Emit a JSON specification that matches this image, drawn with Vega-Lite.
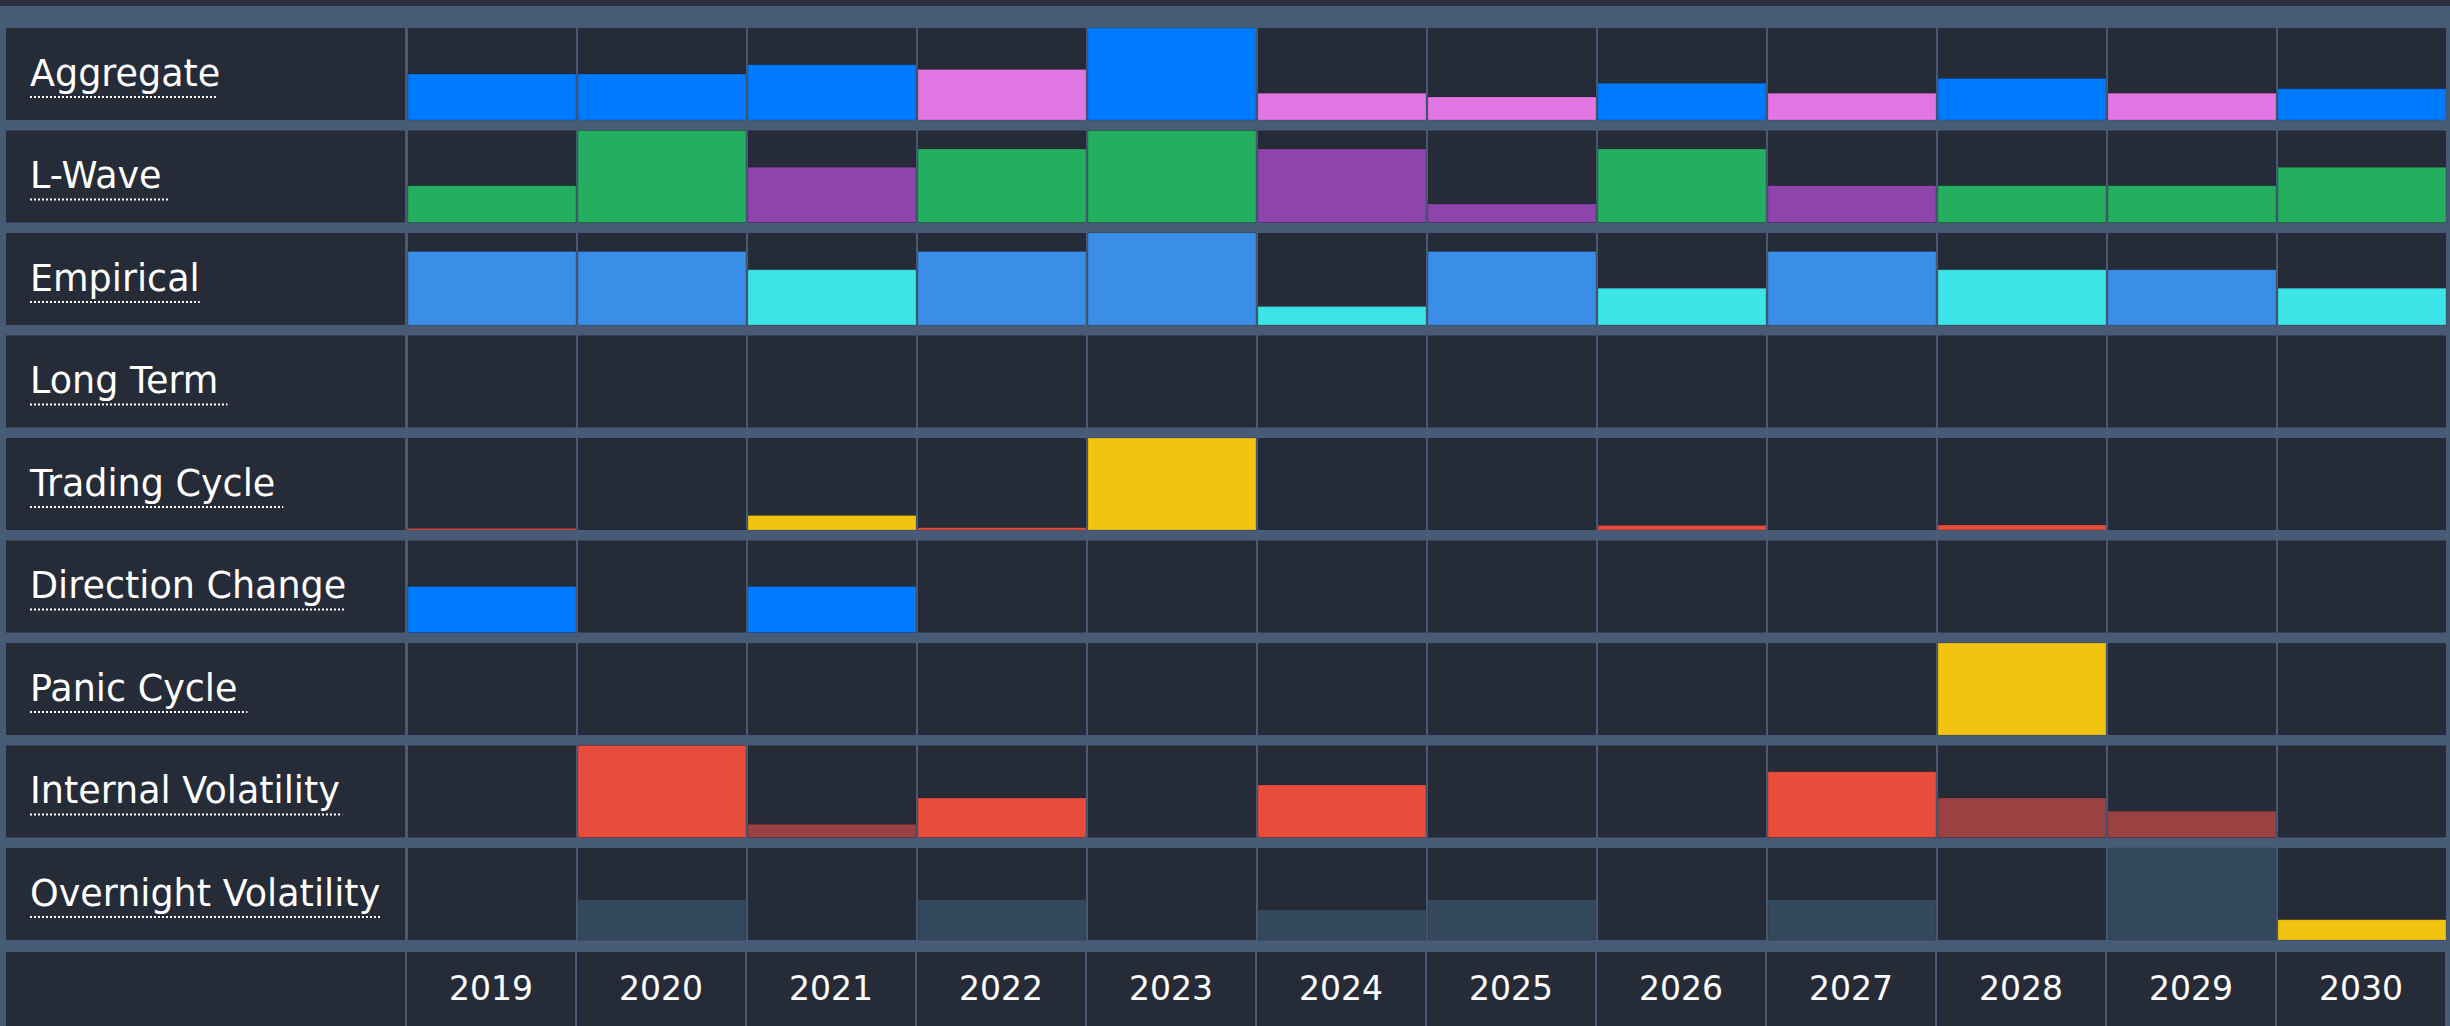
{
  "$schema": "https://vega.github.io/schema/vega-lite/v6.json",
  "background": "#475a76",
  "padding": 0,
  "config": {"view": {"stroke": null}},
  "data": {"values": [
    {"metric": "Aggregate", "year": 2019, "value": 0.50, "tone": "A"},
    {"metric": "Aggregate", "year": 2020, "value": 0.50, "tone": "A"},
    {"metric": "Aggregate", "year": 2021, "value": 0.60, "tone": "A"},
    {"metric": "Aggregate", "year": 2022, "value": 0.55, "tone": "B"},
    {"metric": "Aggregate", "year": 2023, "value": 1.00, "tone": "A"},
    {"metric": "Aggregate", "year": 2024, "value": 0.29, "tone": "B"},
    {"metric": "Aggregate", "year": 2025, "value": 0.25, "tone": "B"},
    {"metric": "Aggregate", "year": 2026, "value": 0.40, "tone": "A"},
    {"metric": "Aggregate", "year": 2027, "value": 0.29, "tone": "B"},
    {"metric": "Aggregate", "year": 2028, "value": 0.45, "tone": "A"},
    {"metric": "Aggregate", "year": 2029, "value": 0.29, "tone": "B"},
    {"metric": "Aggregate", "year": 2030, "value": 0.34, "tone": "A"},
    {"metric": "L-Wave", "year": 2019, "value": 0.4, "tone": "A"},
    {"metric": "L-Wave", "year": 2020, "value": 1.0, "tone": "A"},
    {"metric": "L-Wave", "year": 2021, "value": 0.6, "tone": "B"},
    {"metric": "L-Wave", "year": 2022, "value": 0.8, "tone": "A"},
    {"metric": "L-Wave", "year": 2023, "value": 1.0, "tone": "A"},
    {"metric": "L-Wave", "year": 2024, "value": 0.8, "tone": "B"},
    {"metric": "L-Wave", "year": 2025, "value": 0.2, "tone": "B"},
    {"metric": "L-Wave", "year": 2026, "value": 0.8, "tone": "A"},
    {"metric": "L-Wave", "year": 2027, "value": 0.4, "tone": "B"},
    {"metric": "L-Wave", "year": 2028, "value": 0.4, "tone": "A"},
    {"metric": "L-Wave", "year": 2029, "value": 0.4, "tone": "A"},
    {"metric": "L-Wave", "year": 2030, "value": 0.6, "tone": "A"},
    {"metric": "Empirical", "year": 2019, "value": 0.8, "tone": "A"},
    {"metric": "Empirical", "year": 2020, "value": 0.8, "tone": "A"},
    {"metric": "Empirical", "year": 2021, "value": 0.6, "tone": "B"},
    {"metric": "Empirical", "year": 2022, "value": 0.8, "tone": "A"},
    {"metric": "Empirical", "year": 2023, "value": 1.0, "tone": "A"},
    {"metric": "Empirical", "year": 2024, "value": 0.2, "tone": "B"},
    {"metric": "Empirical", "year": 2025, "value": 0.8, "tone": "A"},
    {"metric": "Empirical", "year": 2026, "value": 0.4, "tone": "B"},
    {"metric": "Empirical", "year": 2027, "value": 0.8, "tone": "A"},
    {"metric": "Empirical", "year": 2028, "value": 0.6, "tone": "B"},
    {"metric": "Empirical", "year": 2029, "value": 0.6, "tone": "A"},
    {"metric": "Empirical", "year": 2030, "value": 0.4, "tone": "B"},
    {"metric": "Long Term", "year": 2019, "value": 0},
    {"metric": "Long Term", "year": 2020, "value": 0},
    {"metric": "Long Term", "year": 2021, "value": 0},
    {"metric": "Long Term", "year": 2022, "value": 0},
    {"metric": "Long Term", "year": 2023, "value": 0},
    {"metric": "Long Term", "year": 2024, "value": 0},
    {"metric": "Long Term", "year": 2025, "value": 0},
    {"metric": "Long Term", "year": 2026, "value": 0},
    {"metric": "Long Term", "year": 2027, "value": 0},
    {"metric": "Long Term", "year": 2028, "value": 0},
    {"metric": "Long Term", "year": 2029, "value": 0},
    {"metric": "Long Term", "year": 2030, "value": 0},
    {"metric": "Trading Cycle", "year": 2019, "value": 0.015, "tone": "B"},
    {"metric": "Trading Cycle", "year": 2020, "value": 0},
    {"metric": "Trading Cycle", "year": 2021, "value": 0.157, "tone": "A"},
    {"metric": "Trading Cycle", "year": 2022, "value": 0.025, "tone": "B"},
    {"metric": "Trading Cycle", "year": 2023, "value": 1.0, "tone": "A"},
    {"metric": "Trading Cycle", "year": 2024, "value": 0},
    {"metric": "Trading Cycle", "year": 2025, "value": 0},
    {"metric": "Trading Cycle", "year": 2026, "value": 0.05, "tone": "B"},
    {"metric": "Trading Cycle", "year": 2027, "value": 0},
    {"metric": "Trading Cycle", "year": 2028, "value": 0.055, "tone": "B"},
    {"metric": "Trading Cycle", "year": 2029, "value": 0},
    {"metric": "Trading Cycle", "year": 2030, "value": 0},
    {"metric": "Direction Change", "year": 2019, "value": 0.5, "tone": "A"},
    {"metric": "Direction Change", "year": 2020, "value": 0},
    {"metric": "Direction Change", "year": 2021, "value": 0.5, "tone": "A"},
    {"metric": "Direction Change", "year": 2022, "value": 0},
    {"metric": "Direction Change", "year": 2023, "value": 0},
    {"metric": "Direction Change", "year": 2024, "value": 0},
    {"metric": "Direction Change", "year": 2025, "value": 0},
    {"metric": "Direction Change", "year": 2026, "value": 0},
    {"metric": "Direction Change", "year": 2027, "value": 0},
    {"metric": "Direction Change", "year": 2028, "value": 0},
    {"metric": "Direction Change", "year": 2029, "value": 0},
    {"metric": "Direction Change", "year": 2030, "value": 0},
    {"metric": "Panic Cycle", "year": 2019, "value": 0},
    {"metric": "Panic Cycle", "year": 2020, "value": 0},
    {"metric": "Panic Cycle", "year": 2021, "value": 0},
    {"metric": "Panic Cycle", "year": 2022, "value": 0},
    {"metric": "Panic Cycle", "year": 2023, "value": 0},
    {"metric": "Panic Cycle", "year": 2024, "value": 0},
    {"metric": "Panic Cycle", "year": 2025, "value": 0},
    {"metric": "Panic Cycle", "year": 2026, "value": 0},
    {"metric": "Panic Cycle", "year": 2027, "value": 0},
    {"metric": "Panic Cycle", "year": 2028, "value": 1.0, "tone": "A"},
    {"metric": "Panic Cycle", "year": 2029, "value": 0},
    {"metric": "Panic Cycle", "year": 2030, "value": 0},
    {"metric": "Internal Volatility", "year": 2019, "value": 0},
    {"metric": "Internal Volatility", "year": 2020, "value": 1.0, "tone": "A"},
    {"metric": "Internal Volatility", "year": 2021, "value": 0.143, "tone": "B"},
    {"metric": "Internal Volatility", "year": 2022, "value": 0.429, "tone": "A"},
    {"metric": "Internal Volatility", "year": 2023, "value": 0},
    {"metric": "Internal Volatility", "year": 2024, "value": 0.571, "tone": "A"},
    {"metric": "Internal Volatility", "year": 2025, "value": 0},
    {"metric": "Internal Volatility", "year": 2026, "value": 0},
    {"metric": "Internal Volatility", "year": 2027, "value": 0.714, "tone": "A"},
    {"metric": "Internal Volatility", "year": 2028, "value": 0.429, "tone": "B"},
    {"metric": "Internal Volatility", "year": 2029, "value": 0.286, "tone": "B"},
    {"metric": "Internal Volatility", "year": 2030, "value": 0},
    {"metric": "Overnight Volatility", "year": 2019, "value": 0},
    {"metric": "Overnight Volatility", "year": 2020, "value": 0.44, "tone": "A"},
    {"metric": "Overnight Volatility", "year": 2021, "value": 0},
    {"metric": "Overnight Volatility", "year": 2022, "value": 0.44, "tone": "A"},
    {"metric": "Overnight Volatility", "year": 2023, "value": 0},
    {"metric": "Overnight Volatility", "year": 2024, "value": 0.33, "tone": "A"},
    {"metric": "Overnight Volatility", "year": 2025, "value": 0.44, "tone": "A"},
    {"metric": "Overnight Volatility", "year": 2026, "value": 0},
    {"metric": "Overnight Volatility", "year": 2027, "value": 0.44, "tone": "A"},
    {"metric": "Overnight Volatility", "year": 2028, "value": 0},
    {"metric": "Overnight Volatility", "year": 2029, "value": 1.0, "tone": "A"},
    {"metric": "Overnight Volatility", "year": 2030, "value": 0.22, "tone": "B"}
  ]},
  "spacing": 21,
  "vconcat": [
    {
      "width": 2450,
      "height": 6,
      "transform": [{"aggregate": [{"op": "count", "as": "n"}]}],
      "mark": {"type": "rect", "color": "#2b303d"},
      "encoding": {
        "x": {"datum": 0, "type": "quantitative", "scale": {"domain": [0, 1], "nice": false}, "axis": null},
        "x2": {"datum": 1},
        "y": {"datum": 0, "type": "quantitative", "scale": {"domain": [0, 1], "nice": false}, "axis": null},
        "y2": {"datum": 1}
      }
    },
    {
      "spacing": 11,
      "vconcat": [
        {
          "spacing": 2,
          "hconcat": [
            {
              "width": 4,
              "height": 912,
              "transform": [{"aggregate": [{"op": "count", "as": "n"}]}],
              "mark": {"type": "rect", "opacity": 0},
              "encoding": {
                "x": {"datum": 0, "type": "quantitative", "scale": {"domain": [0, 1], "nice": false}, "axis": null},
                "x2": {"datum": 1},
                "y": {"datum": 0, "type": "quantitative", "scale": {"domain": [0, 1], "nice": false}, "axis": null},
                "y2": {"datum": 1}
              }
            },
            {
              "width": 399,
              "height": 912,
              "transform": [
                {"aggregate": [{"op": "count", "as": "n"}], "groupby": ["metric"]},
                {"calculate": "24", "as": "uStart"},
                {"calculate": "24 + 36.5 * (0.615 * length(datum.metric) - 0.335 * (length(datum.metric) - length(replace(datum.metric, regexp('[ilI]', 'g'), ''))) - 0.245 * (length(datum.metric) - length(replace(datum.metric, regexp('[ tr-]', 'g'), ''))) + 0.365 * (length(datum.metric) - length(replace(datum.metric, regexp('[mW]', 'g'), ''))) + 0.105 * (length(datum.metric) - length(replace(datum.metric, regexp('[ACDOV]', 'g'), ''))))", "as": "uEnd"}
              ],
              "layer": [
                {
                  "mark": {"type": "rect", "color": "#262b38"},
                  "encoding": {
                    "y": {"field": "metric", "type": "nominal", "scale": {"domain": ["Aggregate", "L-Wave", "Empirical", "Long Term", "Trading Cycle", "Direction Change", "Panic Cycle", "Internal Volatility", "Overnight Volatility"], "paddingInner": 0.10244, "paddingOuter": 0}, "axis": null},
                    "x": {"datum": 0, "type": "quantitative", "scale": {"domain": [0, 399], "nice": false, "zero": true}, "axis": null},
                    "x2": {"datum": 399}
                  }
                },
                {
                  "mark": {"type": "text", "align": "left", "baseline": "alphabetic", "font": "DejaVu Sans", "fontSize": 36.5, "color": "#ffffff"},
                  "encoding": {
                    "y": {"field": "metric", "type": "nominal", "bandPosition": 0.63, "axis": null},
                    "x": {"field": "uStart", "type": "quantitative", "axis": null},
                    "text": {"field": "metric", "type": "nominal"}
                  }
                },
                {
                  "mark": {"type": "rule", "color": "#ffffff", "strokeWidth": 2, "strokeDash": [2, 2]},
                  "encoding": {
                    "y": {"field": "metric", "type": "nominal", "bandPosition": 0.75, "axis": null},
                    "x": {"field": "uStart", "type": "quantitative", "axis": null},
                    "x2": {"field": "uEnd"}
                  }
                }
              ]
            },
            {
              "facet": {"row": {"field": "metric", "type": "nominal", "sort": ["Aggregate", "L-Wave", "Empirical", "Long Term", "Trading Cycle", "Direction Change", "Panic Cycle", "Internal Volatility", "Overnight Volatility"], "header": {"labels": false, "title": null}}},
              "spacing": {"row": 10.5},
              "bounds": "flush",
              "spec": {
                "width": 2038,
                "height": 92,
                "layer": [
                  {
                    "mark": {"type": "rect", "color": "#262b38"},
                    "encoding": {
                      "x": {"field": "year", "type": "ordinal", "scale": {"paddingInner": 0.01178, "paddingOuter": 0}, "axis": null},
                      "y": {"datum": 0, "type": "quantitative", "scale": {"domain": [0, 1], "nice": false}, "axis": null},
                      "y2": {"datum": 1}
                    }
                  },
                  {
                    "transform": [
                      {"filter": "datum.value > 0"},
                      {"calculate": "datum.metric + ':' + datum.tone", "as": "key"}
                    ],
                    "mark": {"type": "bar", "stroke": "#000000", "strokeOpacity": 0.15, "strokeWidth": 1},
                    "encoding": {
                      "x": {"field": "year", "type": "ordinal", "axis": null},
                      "y": {"field": "value", "type": "quantitative", "stack": null, "axis": null},
                      "color": {
                        "field": "key",
                        "type": "nominal",
                        "legend": null,
                        "scale": {
                          "domain": ["Aggregate:A", "Aggregate:B", "L-Wave:A", "L-Wave:B", "Empirical:A", "Empirical:B", "Trading Cycle:A", "Trading Cycle:B", "Direction Change:A", "Panic Cycle:A", "Internal Volatility:A", "Internal Volatility:B", "Overnight Volatility:A", "Overnight Volatility:B"],
                          "range": ["#007bff", "#e277e3", "#24ae60", "#8e44ad", "#3b8ee7", "#3ce3e7", "#f1c40f", "#e74c3c", "#007bff", "#f1c40f", "#e74c3c", "#9b4141", "#34495e", "#f1c40f"]
                        }
                      }
                    }
                  }
                ]
              }
            },
            {
              "width": 3,
              "height": 912,
              "transform": [{"aggregate": [{"op": "count", "as": "n"}]}],
              "mark": {"type": "rect", "opacity": 0},
              "encoding": {
                "x": {"datum": 0, "type": "quantitative", "scale": {"domain": [0, 1], "nice": false}, "axis": null},
                "x2": {"datum": 1},
                "y": {"datum": 0, "type": "quantitative", "scale": {"domain": [0, 1], "nice": false}, "axis": null},
                "y2": {"datum": 1}
              }
            }
          ]
        },
        {
          "spacing": 2,
          "hconcat": [
            {
              "width": 4,
              "height": 76,
              "transform": [{"aggregate": [{"op": "count", "as": "n"}]}],
              "mark": {"type": "rect", "opacity": 0},
              "encoding": {
                "x": {"datum": 0, "type": "quantitative", "scale": {"domain": [0, 1], "nice": false}, "axis": null},
                "x2": {"datum": 1},
                "y": {"datum": 0, "type": "quantitative", "scale": {"domain": [0, 1], "nice": false}, "axis": null},
                "y2": {"datum": 1}
              }
            },
            {
              "width": 399,
              "height": 76,
              "transform": [{"aggregate": [{"op": "count", "as": "n"}]}],
              "mark": {"type": "rect", "color": "#262b38"},
              "encoding": {
                "x": {"datum": 0, "type": "quantitative", "scale": {"domain": [0, 1], "nice": false}, "axis": null},
                "x2": {"datum": 1},
                "y": {"datum": 0, "type": "quantitative", "scale": {"domain": [0, 1], "nice": false}, "axis": null},
                "y2": {"datum": 1}
              }
            },
            {
              "width": 2038,
              "height": 76,
              "transform": [{"aggregate": [{"op": "count", "as": "n"}], "groupby": ["year"]}],
              "layer": [
                {
                  "mark": {"type": "rect", "color": "#262b38"},
                  "encoding": {
                    "x": {"field": "year", "type": "ordinal", "scale": {"paddingInner": 0.01178, "paddingOuter": 0}, "axis": null},
                    "y": {"datum": 0, "type": "quantitative", "scale": {"domain": [0, 1], "nice": false}, "axis": null},
                    "y2": {"datum": 1}
                  }
                },
                {
                  "mark": {"type": "text", "color": "#ffffff", "font": "DejaVu Sans", "fontSize": 33, "baseline": "middle"},
                  "encoding": {
                    "x": {"field": "year", "type": "ordinal", "axis": null},
                    "y": {"datum": 0.5, "type": "quantitative"},
                    "text": {"field": "year", "type": "ordinal"}
                  }
                }
              ]
            }
          ]
        }
      ]
    }
  ]
}
